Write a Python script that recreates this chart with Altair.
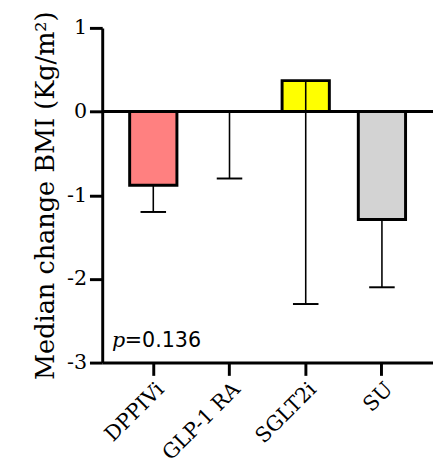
import altair as alt
import pandas as pd

groups = ["DPPIVi", "GLP-1 RA", "SGLT2i", "SU"]
medians = [-0.88, 0.0, 0.37, -1.29]
lower = [-1.2, -0.8, -2.3, -2.1]
colors = ["#FF8080", "#FFFFFF", "#FFFF00", "#D3D3D3"]
y_ticks = [-3, -2, -1, 0, 1]
p_label = "=0.136"

df = pd.DataFrame({"group": groups, "median": medians, "lower": lower, "color": colors})

FONT = "DejaVu Serif"
Y_TITLE = "Median change BMI (Kg/m²)"
H = 341

x = alt.X("group:N", sort=groups, title=None,
          scale=alt.Scale(paddingInner=0.38, paddingOuter=0.36),
          axis=alt.Axis(labelAngle=-45, labelFont=FONT, labelFontSize=21, labelColor="black",
                        domainColor="black", domainWidth=3, ticks=True, tickColor="black",
                        tickWidth=3, tickSize=13, labelPadding=3))
y_scale = alt.Scale(domain=[-3, 1], nice=False)

base = alt.Chart(df)

bars = base.mark_bar(stroke="black", strokeWidth=3).encode(
    x=x,
    y=alt.Y("median:Q", scale=y_scale, title=Y_TITLE,
            axis=alt.Axis(values=y_ticks, labelExpr="'' + datum.value", labelFont=FONT,
                          labelFontSize=21, labelColor="black", titleFont=FONT,
                          titleFontSize=26, titleFontWeight="normal", titleColor="black",
                          domainColor="black", domainWidth=3, ticks=True, tickColor="black",
                          tickWidth=3, tickSize=13, labelPadding=3, grid=False,
                          titlePadding=8)),
    y2=alt.datum(0),
    color=alt.Color("color:N", scale=None),
).transform_filter("datum.median != 0")

err = base.mark_rule(color="black", strokeWidth=1.6).encode(
    x=alt.X("group:N", sort=groups),
    y=alt.Y("median:Q"),
    y2="lower:Q",
)

caps = base.mark_rule(color="black", strokeWidth=2, xOffset=-13, x2Offset=13).encode(
    x=alt.X("group:N", sort=groups),
    x2=alt.X2("group:N"),
    y=alt.Y("lower:Q"),
)

zero = alt.Chart(pd.DataFrame({"z": [0]})).mark_rule(color="black", strokeWidth=3).encode(
    y=alt.Y("z:Q")
)

ptext = alt.Chart(pd.DataFrame({"t": ["p"], "v": [-2.81]})).mark_text(
    font=FONT, fontSize=21, fontStyle="italic", align="left", baseline="alphabetic", color="black"
).encode(x=alt.value(10), y=alt.Y("v:Q"), text="t:N")

ptext2 = alt.Chart(pd.DataFrame({"t": [p_label], "v": [-2.81]})).mark_text(
    font="DejaVu Sans", fontSize=21, align="left", baseline="alphabetic", color="black"
).encode(x=alt.value(23), y=alt.Y("v:Q"), text="t:N")

chart = alt.layer(bars, err, caps, zero, ptext, ptext2).properties(
    width=337, height=H,
    autosize=alt.AutoSizeParams(type="none"),
    padding={"left": 96, "top": 16, "right": 0, "bottom": 96},
).configure_view(stroke="transparent")

chart.save("out.html", embed_options={"renderer": "svg", "actions": False})
